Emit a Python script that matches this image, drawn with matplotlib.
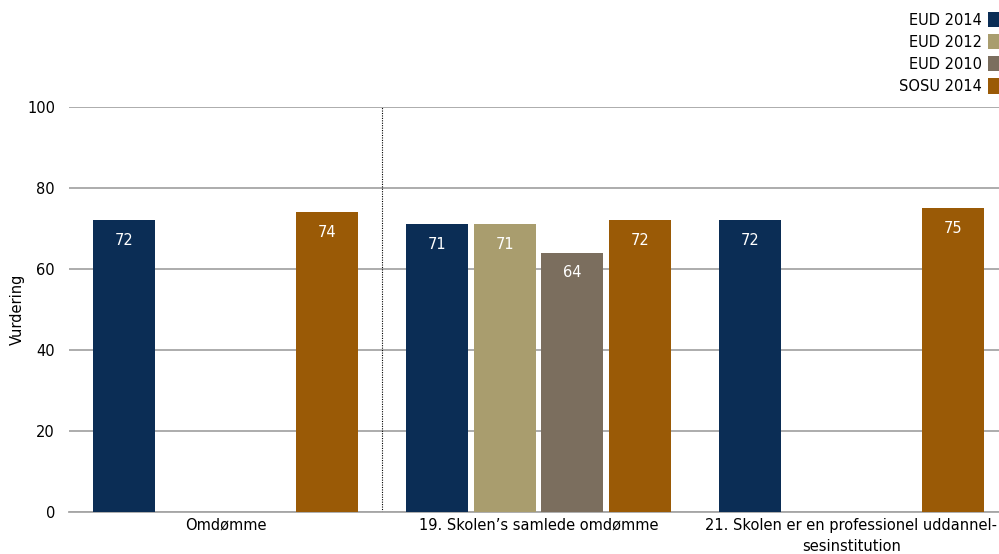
import numpy as np
import matplotlib.pyplot as plt

plt.rcParams['font.family'] = ['DejaVu Sans']

categories = ["Omdømme", "19. Skolen’s samlede omdømme",
              "21. Skolen er en professionel uddannel-\nsesinstitution"]
series = ["EUD 2014", "EUD 2012", "EUD 2010", "SOSU 2014"]
eud_2014 = [72, 71, 72]
eud_2012 = [np.nan, 71, np.nan]
eud_2010 = [np.nan, 64, np.nan]
sosu_2014 = [74, 72, 75]
colors = ["#0b2d55", "#a99d6e", "#7b6e5e", "#9a5a06"]

values = [eud_2014, eud_2012, eud_2010, sosu_2014]

W, H = 999, 554
fig = plt.figure(figsize=(W / 100, H / 100), dpi=100)
# plot area runs a little past the right edge of the canvas
ax = fig.add_axes([69 / W, 42 / H, 939 / W, 405 / H])

x = np.arange(len(categories))
slot = 0.216
width = 0.198
for i, (name, vals, col) in enumerate(zip(series, values, colors)):
    pos = x + (i - 1.5) * slot
    bars = ax.bar(pos, vals, width, color=col, label=name, zorder=3)
    for b, v in zip(bars, vals):
        if np.isnan(v):
            continue
        ax.annotate(f"{v:.0f}", (b.get_x() + b.get_width() / 2, v),
                    xytext=(0, -20), textcoords="offset pixels",
                    ha="center", va="center", color="white", fontsize=10.5,
                    zorder=4)

# dotted separator between the first group and the rest
ax.axvline(0.5, ymin=0, ymax=1, color="black", linestyle=(0, (1, 1.2)),
           linewidth=0.8, zorder=2)

ax.set_xlim(-0.5, 2.5)
ax.set_ylim(0, 100)
ax.set_yticks(range(0, 101, 20))
ax.yaxis.grid(True, color="#a6a6a6", linewidth=1.3, zorder=0)
ax.set_xticks(x)
ax.set_xticklabels(categories, fontsize=10.5, linespacing=1.55)
ax.tick_params(axis="both", length=0, labelsize=10.5)
ax.tick_params(axis="x", pad=4)
ax.tick_params(axis="y", pad=10)
for s in ["top", "right", "left"]:
    ax.spines[s].set_visible(False)
ax.spines["bottom"].set_color("#a6a6a6")
ax.spines["bottom"].set_linewidth(1.3)
ax.set_ylabel("Vurdering", fontsize=10.5, labelpad=1.5)

fig.legend(loc="upper right", bbox_to_anchor=(1.001, 1 - 12 / H), frameon=False,
           markerfirst=False, fontsize=10.5, handlelength=0.82,
           handleheight=1.25, labelspacing=0.44, handletextpad=0.41,
           borderaxespad=0, borderpad=0)

fig.savefig("out.png", dpi=100)
